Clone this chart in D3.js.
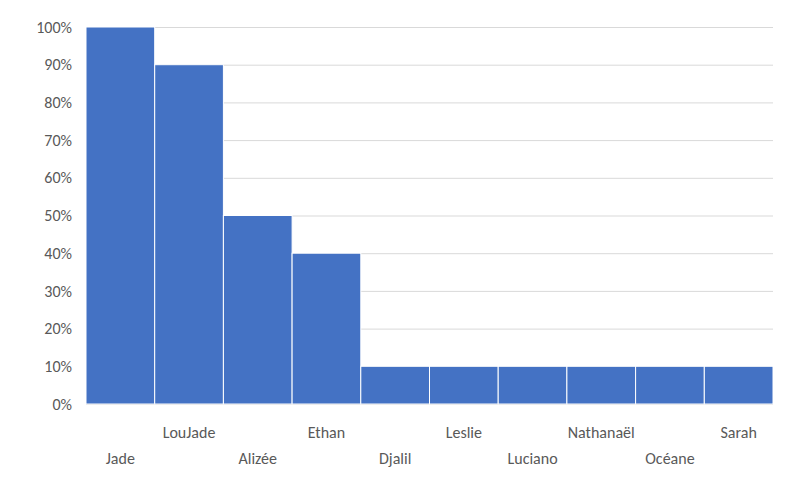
<!DOCTYPE html>
<html>
<head>
<meta charset="utf-8">
<script src="https://cdn.jsdelivr.net/npm/d3@7"></script>
<style>
  body { margin: 0; background: #fff; }
  text { font-family: Calibri, Carlito, "Liberation Sans", sans-serif; fill: #595959; font-size: 16px; }
</style>
</head>
<body>
<script>
const names = ["Jade", "LouJade", "Alizée", "Ethan", "Djalil", "Leslie", "Luciano", "Nathanaël", "Océane", "Sarah"];
const shares = [1.0, 0.9, 0.5, 0.4, 0.1, 0.1, 0.1, 0.1, 0.1, 0.1];
const yTicks = [0, 0.1, 0.2, 0.3, 0.4, 0.5, 0.6, 0.7, 0.8, 0.9, 1.0];

const width = 800, height = 480;
const margin = {top: 27, right: 27, bottom: 76, left: 86};

const svg = d3.select("body").append("svg")
    .attr("width", width)
    .attr("height", height);

const x = d3.scaleBand()
    .domain(names)
    .range([margin.left, width - margin.right])
    .padding(0);

const y = d3.scaleLinear()
    .domain([0, 1])
    .range([height - margin.bottom, margin.top]);

// gridlines
svg.append("g")
  .selectAll("line")
  .data(yTicks)
  .enter().append("line")
    .attr("x1", margin.left)
    .attr("x2", width - margin.right)
    .attr("y1", d => y(d) + 0.5)
    .attr("y2", d => y(d) + 0.5)
    .attr("stroke", "#d9d9d9");

// bars
svg.append("g")
  .selectAll("rect")
  .data(names)
  .enter().append("rect")
    .attr("x", d => x(d))
    .attr("y", (d, i) => y(shares[i]))
    .attr("width", x.bandwidth())
    .attr("height", (d, i) => y(0) - y(shares[i]))
    .attr("fill", "#4472c4")
    .attr("stroke", "#ffffff")
    .attr("stroke-width", 1);

// y tick labels
svg.append("g")
  .selectAll("text")
  .data(yTicks)
  .enter().append("text")
    .attr("x", 72)
    .attr("y", d => y(d))
    .attr("dy", "0.35em")
    .attr("text-anchor", "end")
    .text(d3.format(".0%"));

// x labels, staggered
svg.append("g")
  .selectAll("text")
  .data(names)
  .enter().append("text")
    .attr("x", d => x(d) + x.bandwidth() / 2)
    .attr("y", (d, i) => i % 2 ? 432 : 458)
    .attr("dy", "0.35em")
    .attr("text-anchor", "middle")
    .text(d => d);
</script>
</body>
</html>
